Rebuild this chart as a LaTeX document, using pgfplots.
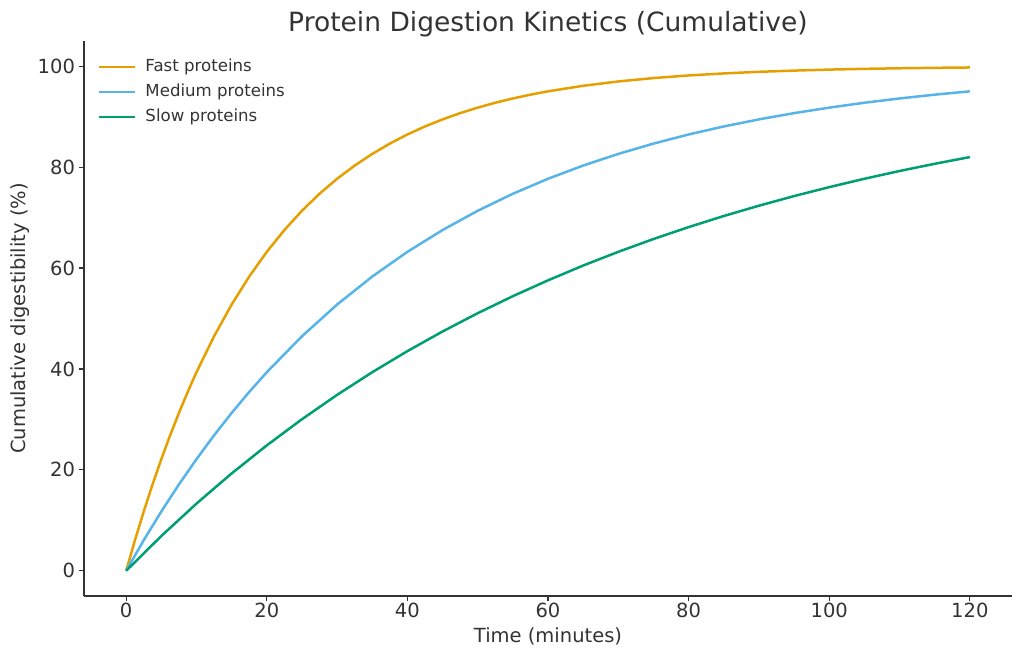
\documentclass[border=0pt]{standalone}
\usepackage{fontspec}
\setmainfont{DejaVu Sans}
\usepackage{pgfplots}
\pgfplotsset{compat=1.18}
\definecolor{fastc}{HTML}{E69F00}
\definecolor{medc}{HTML}{56B4E9}
\definecolor{slowc}{HTML}{009E73}
\definecolor{txt}{HTML}{333333}
\begin{document}
\begin{tikzpicture}
\useasboundingbox (-42pt,-30pt) rectangle (470pt,298pt);
\begin{axis}[
  at={(0,0)}, anchor=south west,
  width=464pt, height=277.5pt, scale only axis,
  xmin=-6, xmax=126, ymin=-5, ymax=105,
  axis x line*=bottom, axis y line*=left,
  axis line style={draw=txt, line width=0.6pt, -},
  xtick={0,20,...,120}, ytick={0,20,...,100},
  tick align=outside, major tick length=2.5pt,
  tick style={draw=txt, line width=0.6pt},
  /pgf/number format/assume math mode=true,
  ticklabel style={font=\fontsize{9.75}{11}\selectfont, text=txt},
  xticklabel style={yshift=2.5pt},
  yticklabel style={xshift=1.5pt},
  label style={font=\fontsize{9.75}{11}\selectfont, text=txt},
  xlabel={Time (minutes)},
  ylabel={Cumulative digestibility (\%)},
  xlabel style={at={(axis description cs:0.5,0)}, anchor=center, yshift=-20pt},
  ylabel style={at={(axis description cs:0,0.5)}, anchor=center, yshift=32pt},
  title={Protein Digestion Kinetics (Cumulative)},
  title style={font=\fontsize{13.25}{16}\selectfont, text=txt, at={(axis description cs:0.5,1)}, anchor=center, yshift=2.5pt},
  legend style={at={(axis description cs:0.014,1)}, anchor=north west, yshift=-8.5pt,
    draw=none, fill=none, inner sep=0pt, row sep=4pt,
    font=\fontsize{8.3}{10}\selectfont, text=txt,
    nodes={inner sep=0pt, text height=6.5pt, text depth=2pt},
    /tikz/every odd column/.append style={column sep=4.8pt}},
  legend cell align=left,
  legend image code/.code={\draw[#1, line width=1.25pt] (0pt,0pt) -- (18pt,0pt);},
]
\addplot[fastc, line width=1.25pt] coordinates {
(0,0) (1.25,6.06) (2.5,11.75) (3.75,17.10) (5,22.12) (6.25,26.84) (7.5,31.27) (8.75,35.44)
(10,39.35) (12.5,46.47) (15,52.76) (17.5,58.31) (20,63.21) (22.5,67.53) (25,71.35)
(27.5,74.72) (30,77.69) (32.5,80.31) (35,82.62) (37.5,84.66) (40,86.47) (42.5,88.06)
(45,89.46) (47.5,90.70) (50,91.79) (52.5,92.76) (55,93.61) (57.5,94.36) (60,95.02)
(65,96.12) (70,96.98) (75,97.65) (80,98.17) (85,98.57) (90,98.89) (95,99.13)
(100,99.33) (105,99.48) (110,99.59) (115,99.68) (120,99.75)
};
\addlegendentry{Fast proteins}
\addplot[medc, line width=1.25pt] coordinates {
(0,0) (2.5,6.06) (5,11.75) (7.5,17.10) (10,22.12) (12.5,26.84) (15,31.27) (17.5,35.44)
(20,39.35) (25,46.47) (30,52.76) (35,58.31) (40,63.21) (45,67.53) (50,71.35) (55,74.72)
(60,77.69) (65,80.31) (70,82.62) (75,84.66) (80,86.47) (85,88.06) (90,89.46) (95,90.70)
(100,91.79) (105,92.76) (110,93.61) (115,94.36) (120,95.02)
};
\addlegendentry{Medium proteins}
\addplot[slowc, line width=1.25pt] coordinates {
(0,0) (5,6.89) (10,13.31) (15,19.29) (20,24.85) (25,30.03) (30,34.86) (35,39.35)
(40,43.53) (45,47.42) (50,51.05) (55,54.42) (60,57.56) (65,60.49) (70,63.21) (75,65.75)
(80,68.11) (85,70.31) (90,72.35) (95,74.26) (100,76.03) (105,77.69) (110,79.23)
(115,80.66) (120,81.99)
};
\addlegendentry{Slow proteins}
\end{axis}
\end{tikzpicture}
\end{document}
